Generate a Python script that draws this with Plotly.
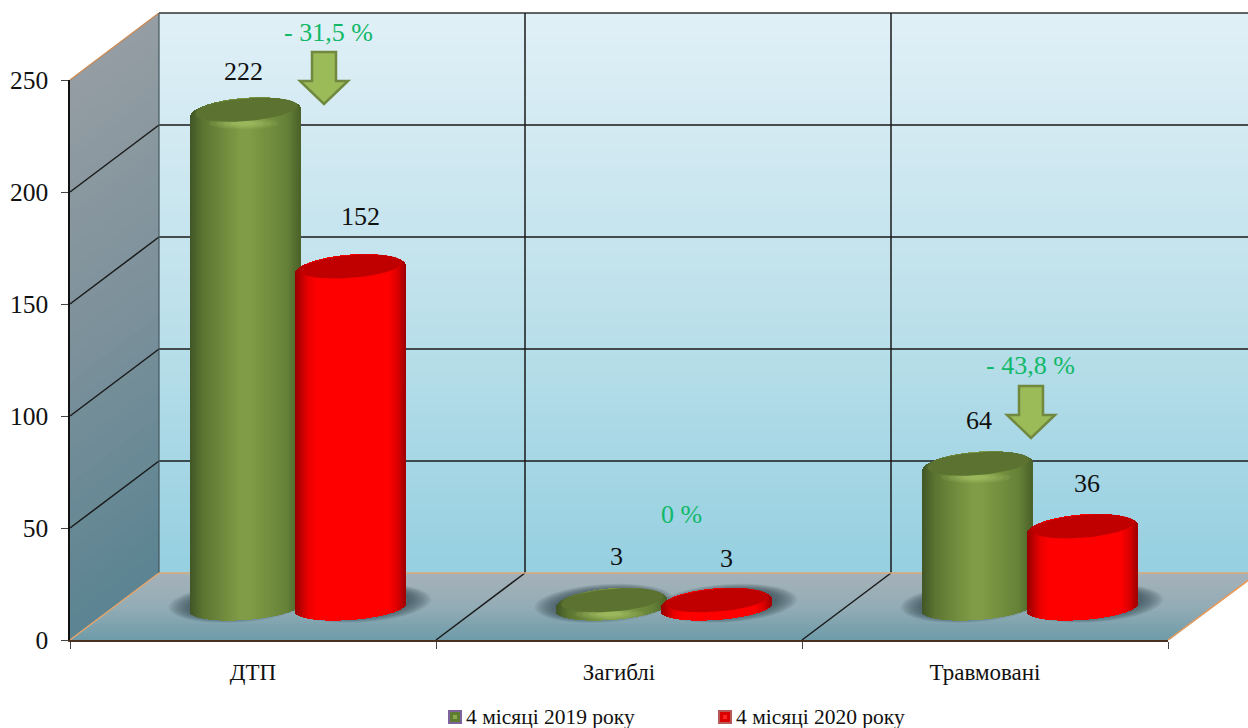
import numpy as np
import plotly.graph_objects as go

# ---- data ----
categories = ["ДТП", "Загиблі", "Травмовані"]
series_names = ["4 місяці 2019 року", "4 місяці 2020 року"]
values_2019 = [222, 3, 64]
values_2020 = [152, 3, 36]
y_ticks = [0, 50, 100, 150, 200, 250]
change_labels = ["- 31,5 %", "0 %", "- 43,8 %"]

# ---- geometry ----
W, H = 1248, 728
L, R, T, B = 70, 80, 80, 88
PW, PH = W - L - R, H - T - B
YMAX = 250
UY = PH / YMAX            # px per value unit
UX = PW / 3               # px per category
DX, DY = 89, 67           # wall depth
BAR_DX, BAR_DY = 45, 30   # depth of the bars plane
RY = 15 / UY              # top ellipse semi-height, value units
RYB = 12 / UY             # bottom ellipse semi-height
TILT = 4 / UY
BW = 0.3
OFFS = [-0.143, 0.143]
STRIPS = 110
SERIF = "Liberation Serif"


def px(x):
    return (x - L) / PW


def py(y):
    return (T + PH - y) / PH


def lerp(stops, t):
    xs = [s[0] for s in stops]
    return "rgb(%d,%d,%d)" % tuple(np.interp(t, xs, [s[1][i] for s in stops]) for i in range(3))


def poly(points, **kw):
    d = "M" + " L".join(f"{px(a):.5f},{py(b):.5f}" for a, b in points) + " Z"
    return dict(type="path", path=d, xref="paper", yref="paper", layer="below",
                line=dict(width=0), **kw)


def pline(x0, y0, x1, y1, color, width=1.5):
    return dict(type="line", xref="paper", yref="paper", layer="below",
                x0=px(x0), y0=py(y0), x1=px(x1), y1=py(y1), line=dict(color=color, width=width))


def ellipse(cx, cy, rx, ry, tilt, n=64):
    a = np.linspace(0, 2 * np.pi, n)
    return cx + rx * np.cos(a), cy + ry * np.sin(a) + tilt * np.cos(a)


shapes = []
# back wall (painted top-down, each band reaching the floor, so no seams)
back_stops = [(0, (224, 240, 247)), (0.5, (192, 226, 236)), (1, (150, 208, 225))]
N = 70
for i in range(N):
    y0 = 13 + 560 * i / N
    shapes.append(poly([(L + DX, y0), (1260, y0), (1260, 573), (L + DX, 573)],
                       fillcolor=lerp(back_stops, i / (N - 1))))
# left wall
side_stops = [(0, (148, 157, 163)), (0.5, (124, 145, 155)), (1, (92, 132, 146))]
N = 50
for i in range(N):
    d0 = 560 * i / N
    shapes.append(poly([(L, 80 + d0), (L + DX, 13 + d0), (L + DX, 573), (L, 640)],
                       fillcolor=lerp(side_stops, i / (N - 1))))
# floor
floor_stops = [(0, (165, 178, 185)), (0.5, (148, 173, 182)), (1, (112, 156, 170))]
N = 30
for i in range(N):
    f0 = i / N
    shapes.append(poly([(L + DX * (1 - f0), 573 + 67 * f0), (1260, 573 + 67 * f0), (1260, 640), (L, 640)],
                       fillcolor=lerp(floor_stops, i / (N - 1))))
# clear the wedge right of the floor
shapes.append(poly([(1168, 641), (1258, 573.5), (1262, 641)], fillcolor="white"))

# grid on the walls
for v in y_ticks[1:]:
    y = 640 - v * UY
    col = "#1a1a1a"
    shapes.append(pline(L, y, L + DX, y - DY, "#c98a55" if v == YMAX else col, 1.5))
    shapes.append(pline(L + DX, y - DY, 1250, y - DY, "#333333" if v == YMAX else col, 1.5))
for k in (1, 2):
    x = L + k * UX
    shapes.append(pline(x + DX, 13, x + DX, 573, "#1a1a1a", 1.5))
    shapes.append(pline(x, 640, x + DX, 573, "#1a1a1a", 1.5))
shapes.append(pline(L + DX, 13, L + DX, 573, "#44555c", 1.2))
shapes.append(pline(L, 640, L + DX, 573, "#e8a468", 1.5))
shapes.append(pline(L + DX, 573, 1250, 573, "#dca878", 1.5))
shapes.append(pline(1168, 640, 1258, 573, "#ee9a55", 1.5))

# floor shadows under the bars
for s in range(2):
    for i in range(3):
        cx = i + 0.5 + OFFS[s] + (0.03 if s else -0.02)
        for q in np.linspace(1, 0.7, 10):
            xs, ys = ellipse(cx, 3.0, 0.19 * q, 8.5 * q, TILT)
            d = "M" + " L".join(f"{a:.4f},{b:.3f}" for a, b in zip(xs, ys)) + " Z"
            shapes.append(dict(type="path", path=d, xref="x2", yref="y2", layer="below",
                               line=dict(width=0), fillcolor="rgba(50,72,82,0.1)"))

# arrows
for ax, ay in ((324, 52), (1031, 386)):
    d = [(ax - 12, ay), (ax + 12, ay), (ax + 12, ay + 29), (ax + 24, ay + 29), (ax, ay + 52),
         (ax - 24, ay + 29), (ax - 12, ay + 29)]
    a = poly(d, fillcolor="#9bbb59")
    a["line"] = dict(color="#71893f", width=2.5)
    a["layer"] = "above"
    shapes.append(a)

# legend swatches
legend_cols = ["#5f7d30", "#d80000"]
legend_glow = ["#8aa84e", "#ff2020"]
legend_lines = ["#7f63a1", "#b85a5a"]
for s, sx in enumerate((448, 718)):
    a = poly([(sx + 1, 711), (sx + 13, 711), (sx + 13, 723), (sx + 1, 723)], fillcolor=legend_cols[s])
    a["line"] = dict(color=legend_lines[s], width=2)
    a["layer"] = "above"
    shapes.append(a)
    b = poly([(sx + 5, 715), (sx + 9, 715), (sx + 9, 719), (sx + 5, 719)], fillcolor=legend_glow[s])
    b["layer"] = "above"
    shapes.append(b)

# ---- cylinders ----
green_stops = [(0, (66, 86, 38)), (0.12, (92, 118, 50)), (0.45, (128, 156, 70)), (0.55, (128, 156, 70)),
               (0.88, (102, 130, 56)), (1, (76, 98, 42))]
red_stops = [(0, (150, 0, 0)), (0.12, (235, 0, 0)), (0.2, (255, 0, 0)), (0.85, (255, 0, 0)),
             (0.94, (215, 0, 0)), (1, (160, 0, 0))]
series_stops = [green_stops, red_stops]
inner_cols = ["#5c7230", "#c00000"]
all_values = [values_2019, values_2020]

fig = go.Figure()
for s, vals in enumerate(all_values):
    xs, ys, bases, cols = [], [], [], []
    sw = BW / STRIPS
    for i, v in enumerate(vals):
        for k in range(STRIPS):
            t = (k + 0.5) / STRIPS * 2 - 1
            top = v + RY * np.sqrt(1 - t * t) + TILT * t
            bot = 0.9 - RYB * np.sqrt(1 - t * t) + TILT * t
            xs.append(i + 0.5 + OFFS[s] + t * BW / 2)
            bases.append(bot)
            ys.append(top - bot)
            cols.append(lerp(series_stops[s], (t + 1) / 2))
    fig.add_trace(go.Bar(x=xs, y=ys, base=bases, width=sw * 1.3, xaxis="x2", yaxis="y2",
                         marker=dict(color=cols, line=dict(width=0)), showlegend=False,
                         hoverinfo="skip"))
for s, vals in enumerate(all_values):
    if s == 0:
        # soft highlight on the rim
        for q, alpha in ((1, 0.14), (0.8, 0.16), (0.6, 0.2), (0.4, 0.25)):
            hx, hy = [], []
            for i, v in enumerate(vals):
                a, b = ellipse(i + 0.5 + OFFS[s] - 0.005, v - RY * 0.72, 0.095 * q, RY * 0.38 * q, 0)
                hx += list(a) + [None]
                hy += list(b) + [None]
            fig.add_trace(go.Scatter(x=hx, y=hy, xaxis="x2", yaxis="y2", mode="lines", fill="toself",
                                     fillcolor=f"rgba(176,204,110,{alpha})", line=dict(width=0),
                                     showlegend=False, hoverinfo="skip"))
    tx, ty = [], []
    for i, v in enumerate(vals):
        a, b = ellipse(i + 0.5 + OFFS[s] + 0.002, v + RY * 0.2, BW / 2 * 0.93, RY * 0.76, TILT)
        tx += list(a) + [None]
        ty += list(b) + [None]
    fig.add_trace(go.Scatter(x=tx, y=ty, xaxis="x2", yaxis="y2", mode="lines", fill="toself",
                             fillcolor=inner_cols[s], line=dict(width=0), showlegend=False,
                             hoverinfo="skip"))

# legend entries (one legend per series so that each can sit at its own place)
for s, name in enumerate(series_names):
    fig.add_trace(go.Scatter(x=[None], y=[None], mode="markers", name=name,
                             legend="legend" if s == 0 else "legend2",
                             marker=dict(symbol="square", size=12, color="rgba(0,0,0,0)",
                                         line=dict(width=0))))

# ---- labels ----
annos = []
label_shifts = [[(-2, 41), (5, 47), (1, 46)], [(10, 53), (10, 45), (5, 46)]]
for s, vals in enumerate(all_values):
    for i, v in enumerate(vals):
        dx, dy = label_shifts[s][i]
        annos.append(dict(x=i + 0.5 + OFFS[s], y=v, xref="x2", yref="y2", text=str(v), showarrow=False,
                          xshift=dx, yshift=dy, font=dict(family=SERIF, size=26, color="#111111")))
for txt, (ax, ay) in zip(change_labels, ((328, 32), (681, 514), (1030, 365))):
    annos.append(dict(x=px(ax), y=py(ay), xref="paper", yref="paper", text=txt, showarrow=False,
                      xanchor="center", yanchor="middle",
                      font=dict(family=SERIF, size=26, color="#10b868")))

legend_style = dict(orientation="h", xanchor="left", y=py(716), yanchor="middle",
                    font=dict(family=SERIF, size=21.5, color="#111111"), bgcolor="rgba(0,0,0,0)",
                    itemwidth=30)
fig.update_layout(
    width=W, height=H, margin=dict(l=L, r=R, t=T, b=B, autoexpand=False),
    paper_bgcolor="white", plot_bgcolor="rgba(0,0,0,0)", barmode="overlay", bargap=0,
    shapes=shapes, annotations=annos,
    font=dict(family=SERIF, color="#111111"),
    xaxis=dict(range=[0, 3], tickvals=[0.5, 1.5, 2.5], ticktext=categories, ticks="",
               tickfont=dict(size=23), showgrid=False, zeroline=False, showline=True,
               linecolor="#4a3020", linewidth=2, ticklabelstandoff=10,
               minor=dict(tickvals=[0, 1, 2, 3], ticks="outside", ticklen=7, tickcolor="#444444", tickwidth=1.2)),
    yaxis=dict(range=[0, YMAX], tickvals=y_ticks, ticks="outside", ticklen=7, tickcolor="#444444",
               tickwidth=1.2, tickfont=dict(size=25.5), showgrid=False, zeroline=False, showline=True,
               linecolor="#111111", linewidth=1.5, ticklabelstandoff=8),
    xaxis2=dict(range=[-BAR_DX / UX, 3 - BAR_DX / UX], overlaying="x", visible=False),
    yaxis2=dict(range=[-BAR_DY / UY, YMAX - BAR_DY / UY], overlaying="y", visible=False),
    legend=dict(x=px(426), **legend_style),
    legend2=dict(x=px(696), **legend_style),
)

fig.write_html("out.html", config={"displayModeBar": False},
               post_script="document.body.style.margin='0';")
